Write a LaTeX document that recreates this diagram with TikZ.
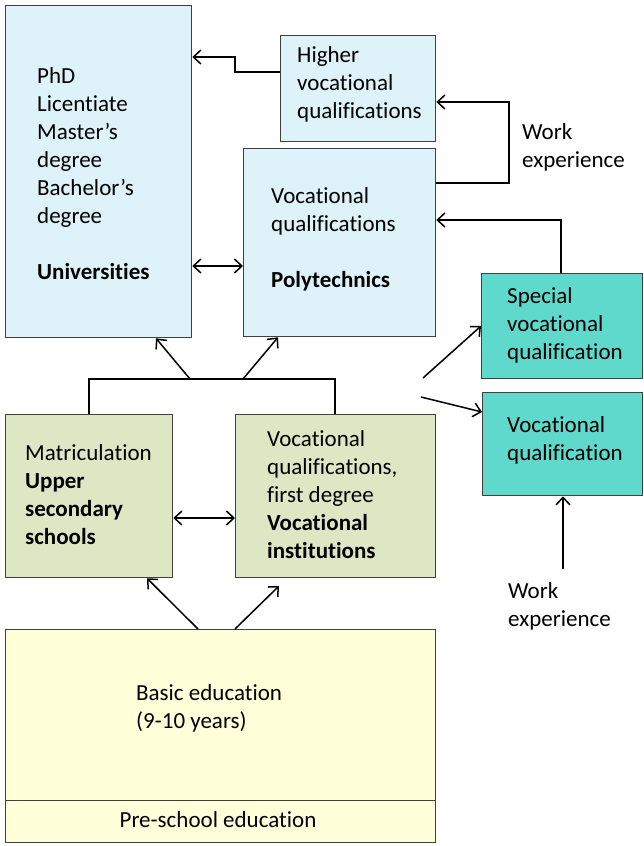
\documentclass[tikz,border=0pt]{standalone}
\usepackage{fontspec}
\setmainfont{Carlito}[Ligatures=NoCommon]
\usetikzlibrary{arrows.meta,calc}
\definecolor{lblue}{HTML}{DEF2F9}
\definecolor{teal2}{HTML}{5ED9CB}
\definecolor{lgreen}{HTML}{DDE7C3}
\definecolor{lyellow}{HTML}{FFFFDA}
\definecolor{edge}{HTML}{404040}
\begin{document}
\begin{tikzpicture}[x=1pt,y=-1pt,
  box/.style={draw=edge, line width=1.3pt, inner sep=0pt, anchor=north west},
  txt/.style={anchor=north west, align=left, inner sep=0pt, font=\fontsize{23}{28}\selectfont},
  conn/.style={line width=1.5pt, black},
  arr/.style={conn, -{Straight Barb[length=7.5pt,width=14pt]}},
  darr/.style={conn, {Straight Barb[length=7.5pt,width=14pt]}-{Straight Barb[length=7.5pt,width=14pt]}}]
\useasboundingbox (0,0) rectangle (644,846);
% boxes
\node[box, fill=lblue, minimum width=186pt, minimum height=332pt] (univ) at (5,5) {};
\node[box, fill=lblue, minimum width=155pt, minimum height=106pt] (higher) at (280,35) {};
\node[box, fill=lblue, minimum width=192pt, minimum height=188pt] (poly) at (243,148) {};
\node[box, fill=teal2, minimum width=161pt, minimum height=105pt] (special) at (481,273) {};
\node[box, fill=teal2, minimum width=160pt, minimum height=103pt] (vq) at (482,392) {};
\node[box, fill=lgreen, minimum width=167pt, minimum height=163pt] (upper) at (5,414) {};
\node[box, fill=lgreen, minimum width=200pt, minimum height=163pt] (vi) at (235,414) {};
\node[box, fill=lyellow, minimum width=430pt, minimum height=171pt] (basic) at (5,629) {};
\node[box, fill=lyellow, minimum width=430pt, minimum height=42pt] (pre) at (5,800) {};
% texts
\node[txt] (tuniv) at (37,63.4) {\strut PhD\\Licentiate\\Master’s\\degree\\Bachelor’s\\degree\\[28pt]\textbf{Universities}};
\node[txt] (thigher) at (297,42.4) {\strut Higher\\vocational\\qualifications};
\node[txt] (tpoly) at (271,183.4) {\strut Vocational\\qualifications\\[28pt]\textbf{Polytechnics}};
\node[txt] (twork1) at (522,119.4) {\strut Work\\experience};
\node[txt] (tspecial) at (507,283.4) {\strut Special\\vocational\\qualification};
\node[txt] (tvq) at (507,412.4) {\strut Vocational\\qualification};
\node[txt] (tmatr) at (25,440.4) {\strut Matriculation\\\textbf{Upper}\\\textbf{secondary}\\\textbf{schools}};
\node[txt] (tvi) at (267,426.4) {\strut Vocational\\qualifications,\\first degree\\\textbf{Vocational}\\\textbf{institutions}};
\node[txt] (twork2) at (508,578.4) {\strut Work\\experience};
\node[txt] (tbasic) at (136,680.4) {\strut Basic education\\(9-10 years)};
\node[txt, anchor=base] (tpre) at (218,827) {Pre-school education};
% free ends
\coordinate (b1) at (190,379);
\coordinate (b2) at (243,379);
\coordinate (r1) at (423,378);
\coordinate (r2) at (421,397);
\coordinate (w2) at (563,569);
\coordinate (viTip) at (279,586);
% connectors
\draw[arr] (higher.west |- 0,72) -| (235,57) -- (univ.east |- 0,57);
\draw[arr] (poly.east |- 0,183) -| (509,102) -- (higher.east |- 0,102);
\draw[arr] (special.north -| 561,0) |- (poly.east |- 0,220);
\draw[darr] (univ.east |- 0,266) -- (poly.west |- 0,266);
\draw[conn] (upper.north -| 89,0) |- (335,379) -- (vi.north -| 335,0);
\draw[arr] (b1) -- (univ.south -| 156,0);
\draw[arr] (b2) -- (poly.south -| 278,0);
\draw[arr] (r1) -- (special.west |- 0,326);
\draw[arr] (r2) -- (vq.west |- 0,412);
\draw[darr] (upper.east |- 0,518) -- (vi.west |- 0,518);
\draw[arr] (basic.north -| 198,0) -- (upper.south -| 147,0);
\draw[arr] (basic.north -| 235,0) -- (viTip);
\draw[arr] (w2) -- (vq.south -| 563,0);
\end{tikzpicture}
\end{document}
